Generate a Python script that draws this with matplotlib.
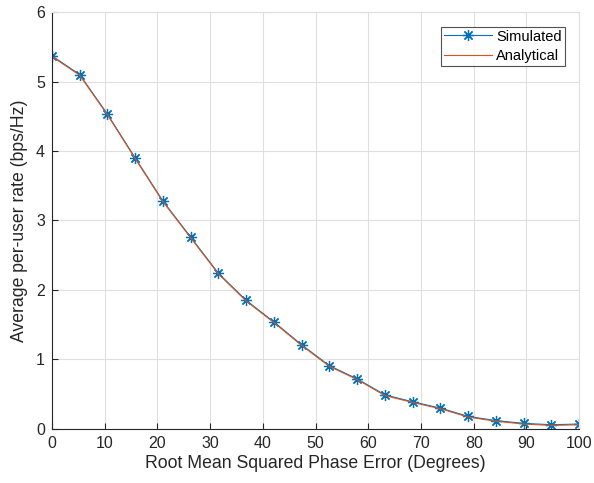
import matplotlib
matplotlib.use("Agg")
import matplotlib.pyplot as plt
import numpy as np

plt.rcParams['font.family'] = ['Liberation Sans', 'DejaVu Sans']

# phase error (degrees), 20 points from 0 to 100
phase_err = np.linspace(0, 100, 20)
simulated = [5.37, 5.10, 4.53, 3.90, 3.28, 2.76, 2.24, 1.85, 1.54, 1.21,
             0.91, 0.72, 0.49, 0.39, 0.30, 0.18, 0.12, 0.08, 0.06, 0.07]
analytical = [5.36, 5.09, 4.52, 3.89, 3.27, 2.75, 2.23, 1.84, 1.53, 1.20,
              0.90, 0.71, 0.48, 0.38, 0.29, 0.17, 0.11, 0.07, 0.05, 0.06]

dark = '#262626'

fig = plt.figure(figsize=(5.94, 4.83), dpi=100)
ax = fig.add_axes([0.0875, 0.112, 0.8875, 0.863])

# MATLAB-like asterisk marker (8 arms)
ax.plot(phase_err, simulated, color='#0072BD', lw=0.8, marker=(8, 2, 0),
        markersize=8, markeredgewidth=0.9, label='Simulated')
ax.plot(phase_err, analytical, color='#D95319', lw=0.8, label='Analytical')

ax.set_xlim(0, 100)
ax.set_ylim(0, 6)
ax.set_xticks(np.arange(0, 101, 10))
ax.set_yticks(np.arange(0, 7, 1))
ax.grid(True, color='#dfdfdf', lw=0.8)
ax.set_axisbelow(True)
ax.tick_params(direction='in', length=4, labelsize=11.5, colors=dark, pad=5)
ax.tick_params(top=False, right=False)
ax.spines['left'].set_color(dark)
ax.spines['bottom'].set_color(dark)
ax.spines['top'].set_color('#dfdfdf')
ax.spines['right'].set_color('#dfdfdf')
for s in ax.spines.values():
    s.set_linewidth(0.8)

ax.set_xlabel('Root Mean Squared Phase Error (Degrees)', fontsize=12.7, color=dark, labelpad=3)
ax.set_ylabel('Average per-user rate (bps/Hz)', fontsize=12.7, color=dark, labelpad=6)

leg = ax.legend(loc='upper right', fancybox=False, edgecolor=dark,
                fontsize=10.5, borderaxespad=1.0, handlelength=3.3,
                labelspacing=0.4, borderpad=0.2, handletextpad=0.3)
leg.get_frame().set_linewidth(0.8)

fig.savefig('out.png', dpi=100)
